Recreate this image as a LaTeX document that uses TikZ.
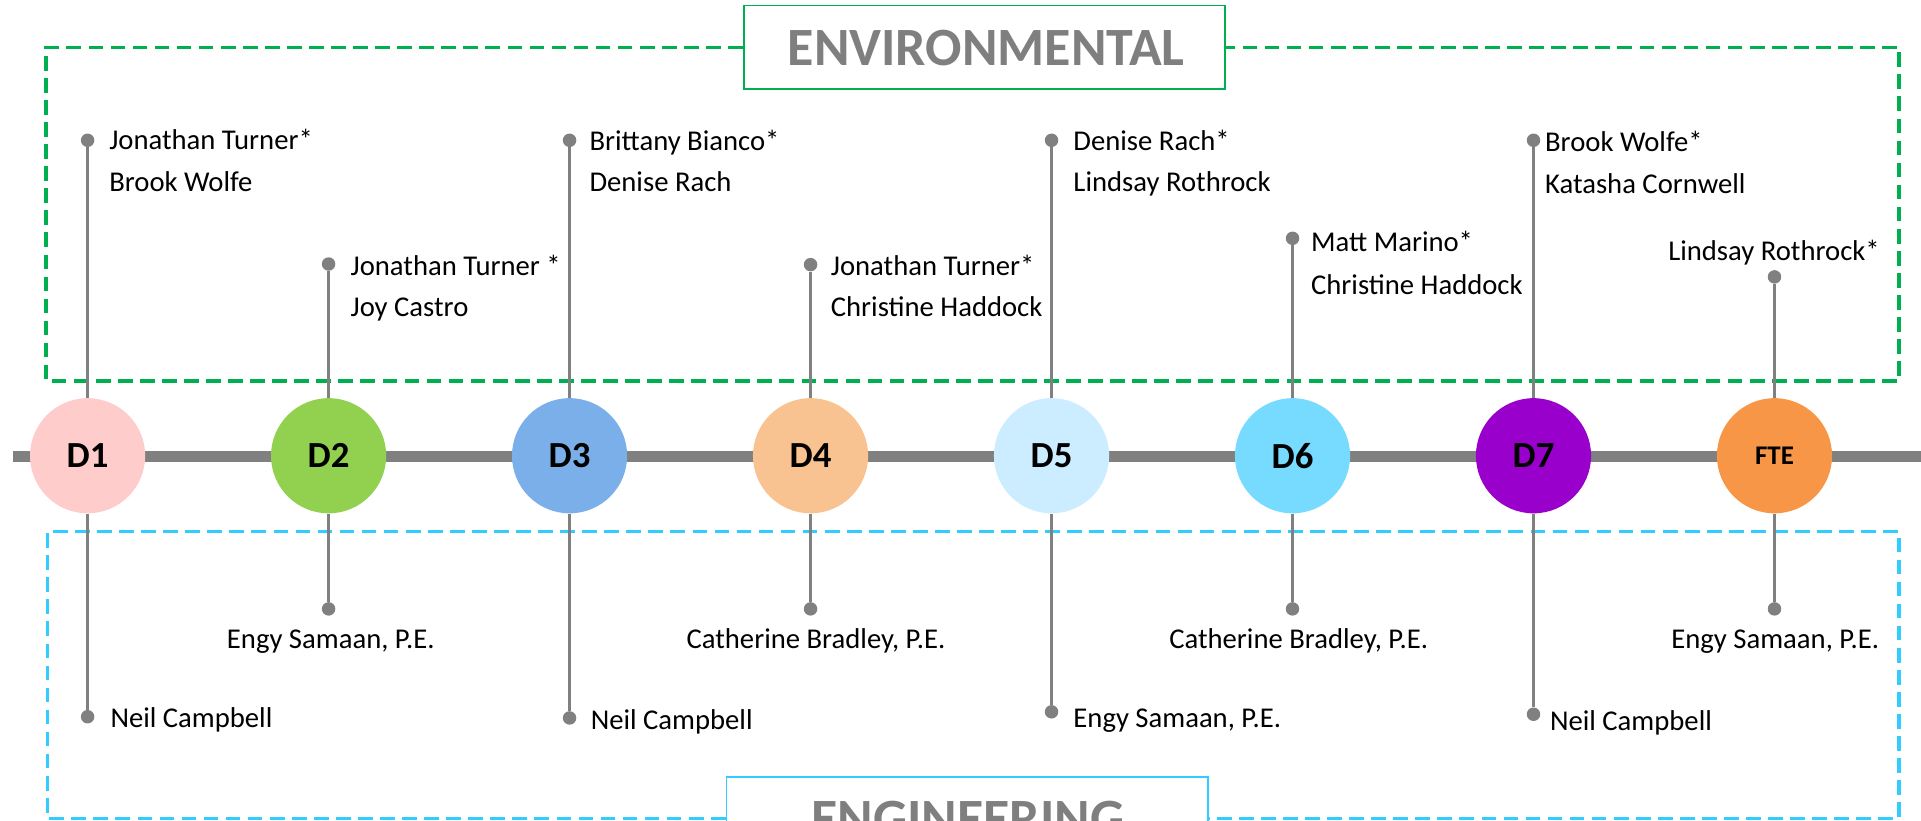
\documentclass[tikz,border=0pt]{standalone}
\usepackage{fontspec}
\setmainfont{Carlito}
\definecolor{envgreen}{HTML}{00B050}
\definecolor{engblue}{HTML}{33CCFF}
\definecolor{linegray}{HTML}{808080}
\definecolor{titlegray}{HTML}{7F7F7F}
\definecolor{cone}{HTML}{FFCCCC}
\definecolor{ctwo}{HTML}{92D050}
\definecolor{cthree}{HTML}{7BAFEA}
\definecolor{cfour}{HTML}{F9C291}
\definecolor{cfive}{HTML}{CCECFF}
\definecolor{csix}{HTML}{77DBFF}
\definecolor{cseven}{HTML}{9900CC}
\definecolor{cfte}{HTML}{F79646}
\begin{document}
\begin{tikzpicture}[x=1pt,y=-1pt,
  district/.style={circle,inner sep=0pt,minimum size=94pt,font=\fontsize{30}{32}\selectfont\bfseries},
  stopdot/.style={circle,fill=linegray,inner sep=0pt,minimum size=11pt},
  stemline/.style={linegray,line width=2.2pt},
  namelabel/.style={inner sep=0pt,font=\fontsize{23.4}{27}\selectfont},
  groupbox/.style={line width=1.5pt,minimum width=393pt,minimum height=68pt,fill=white},
  grouptitle/.style={inner sep=0pt,text=titlegray,font=\fontsize{44}{47}\selectfont\bfseries},
  frame/.style={dashed,line width=2.6pt,dash pattern=on 12pt off 6pt}]

\useasboundingbox (0,0) rectangle (1568,670);
\clip (0,0) rectangle (1568,670);

% group frames
\node [groupbox,draw=envgreen] (envbox) at (803.5,38.5) {};
\node [grouptitle,anchor=base] (envtitle) at (805,53.5) {ENVIRONMENTAL};
\coordinate (envsw) at (37.5,311);
\coordinate (envne) at (1550,38.5);
\draw [frame,envgreen] (envbox.west) -| (envsw) -| (envne) -- (envbox.east);

\node [groupbox,draw=engblue] (engbox) at (789.5,668) {};
\node [grouptitle,anchor=base] (engtitle) at (790,683) {ENGINEERING};
\coordinate (engnw) at (39,433.5);
\coordinate (engse) at (1550,668);
\draw [frame,engblue] (engbox.west) -| (engnw) -| (engse) -- (engbox.east);

% timeline
\coordinate (lstart) at (11,373);
\coordinate (lend) at (1570,373);
\draw [linegray,line width=9pt] (lstart) -- (lend);

% stops
\node [district,fill=cone] (d1) at (71.5,372) {D1};
\node [district,fill=ctwo] (d2) at (268.2,372) {D2};
\node [district,fill=cthree] (d3) at (464.9,372) {D3};
\node [district,fill=cfour] (d4) at (661.6,372) {D4};
\node [district,fill=cfive] (d5) at (858.3,372) {D5};
\node [district,fill=csix] (d6) at (1055,372) {D6};
\node [district,fill=cseven] (d7) at (1251.7,372) {D7};
\node [district,fill=cfte,font=\fontsize{22}{24}\selectfont\bfseries] (fte) at (1448.4,372) {FTE};

% environmental pins
\node [stopdot] (t1) at (71.5,114.5) {};
\node [stopdot] (t2) at (268.2,215.5) {};
\node [stopdot] (t3) at (464.9,114.5) {};
\node [stopdot] (t4) at (661.6,216) {};
\node [stopdot] (t5) at (858.3,114.5) {};
\node [stopdot] (t6) at (1055,194.5) {};
\node [stopdot] (t7) at (1251.7,114.5) {};
\node [stopdot] (t8) at (1448.4,226) {};
\draw [stemline] (d1) -- (t1);
\draw [stemline] (d2) -- (t2);
\draw [stemline] (d3) -- (t3);
\draw [stemline] (d4) -- (t4);
\draw [stemline] (d5) -- (t5);
\draw [stemline] (d6) -- (t6);
\draw [stemline] (d7) -- (t7);
\draw [stemline] (fte) -- (t8);

\node [namelabel,anchor=base west] (e1a) at (89,122) {Jonathan Turner*};
\node [namelabel,anchor=base west] (e1b) at (89,156.5) {Brook Wolfe};
\node [namelabel,anchor=base west] (e2a) at (286,224.5) {Jonathan Turner *};
\node [namelabel,anchor=base west] (e2b) at (286,258.5) {Joy Castro};
\node [namelabel,anchor=base west] (e3a) at (481,122.5) {Brittany Bianco*};
\node [namelabel,anchor=base west] (e3b) at (481,156.5) {Denise Rach};
\node [namelabel,anchor=base west] (e4a) at (678,224.5) {Jonathan Turner*};
\node [namelabel,anchor=base west] (e4b) at (678,258.5) {Christine Haddock};
\node [namelabel,anchor=base west] (e5a) at (876,122.5) {Denise Rach*};
\node [namelabel,anchor=base west] (e5b) at (876,156.5) {Lindsay Rothrock};
\node [namelabel,anchor=base west] (e6a) at (1070,205) {Matt Marino*};
\node [namelabel,anchor=base west] (e6b) at (1070,240) {Christine Haddock};
\node [namelabel,anchor=base west] (e7a) at (1261,123.5) {Brook Wolfe*};
\node [namelabel,anchor=base west] (e7b) at (1261,158) {Katasha Cornwell};
\node [namelabel,anchor=base] (e8a) at (1448,213) {Lindsay Rothrock*};

% engineering pins
\node [stopdot] (b1) at (71.5,585) {};
\node [stopdot] (b2) at (268.2,497) {};
\node [stopdot] (b3) at (464.9,586) {};
\node [stopdot] (b4) at (661.6,497) {};
\node [stopdot] (b5) at (858.3,581) {};
\node [stopdot] (b6) at (1055,497) {};
\node [stopdot] (b7) at (1251.7,583) {};
\node [stopdot] (b8) at (1448.4,497) {};
\draw [stemline] (d1) -- (b1);
\draw [stemline] (d2) -- (b2);
\draw [stemline] (d3) -- (b3);
\draw [stemline] (d4) -- (b4);
\draw [stemline] (d5) -- (b5);
\draw [stemline] (d6) -- (b6);
\draw [stemline] (d7) -- (b7);
\draw [stemline] (fte) -- (b8);

\node [namelabel,anchor=base west] (g1) at (90,593.5) {Neil Campbell};
\node [namelabel,anchor=base] (g2) at (270,529.5) {Engy Samaan, P.E.};
\node [namelabel,anchor=base west] (g3) at (482,595.5) {Neil Campbell};
\node [namelabel,anchor=base] (g4) at (666,529.5) {Catherine Bradley, P.E.};
\node [namelabel,anchor=base west] (g5) at (876,593.5) {Engy Samaan, P.E.};
\node [namelabel,anchor=base] (g6) at (1060,529.5) {Catherine Bradley, P.E.};
\node [namelabel,anchor=base west] (g7) at (1265,596) {Neil Campbell};
\node [namelabel,anchor=base] (g8) at (1449,529.5) {Engy Samaan, P.E.};
\end{tikzpicture}
\end{document}
